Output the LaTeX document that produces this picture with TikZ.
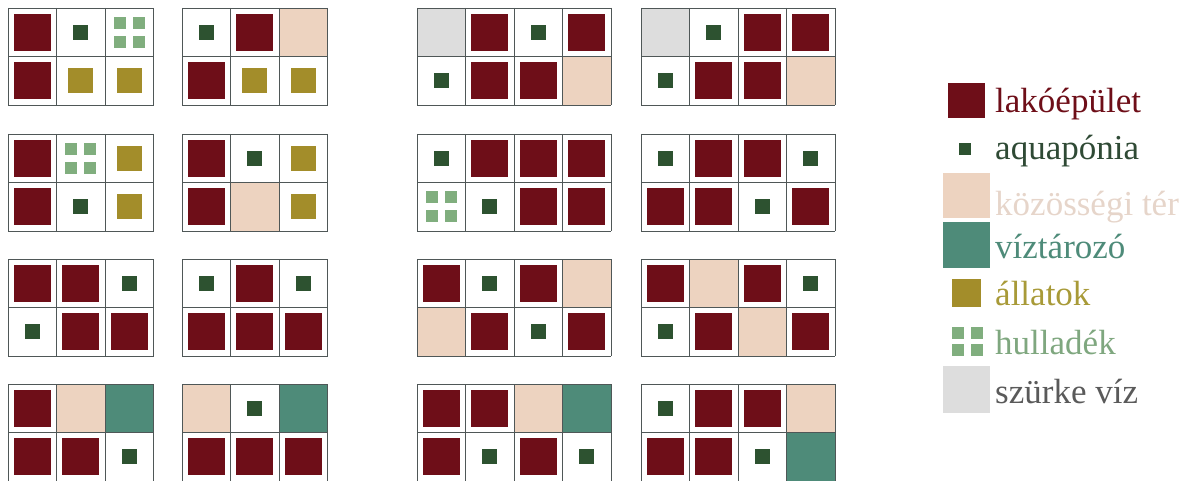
\documentclass[tikz,border=0pt]{standalone}
\usepackage{fontspec}
\setmainfont{Liberation Serif}
\usepackage{tikz}

\definecolor{lako}{HTML}{6E0E18}
\definecolor{aqua}{HTML}{2D5230}
\definecolor{kozos}{HTML}{EDD3C0}
\definecolor{viz}{HTML}{4E8B79}
\definecolor{allat}{HTML}{A38D2A}
\definecolor{hull}{HTML}{80AE7E}
\definecolor{szurke}{HTML}{DDDDDD}
\definecolor{gridgray}{HTML}{4F5757}
\definecolor{kozostext}{HTML}{E6D5CA}
\definecolor{allattext}{HTML}{A89A38}
\definecolor{hulltext}{HTML}{7FA77F}
\definecolor{szurketext}{HTML}{5A5A5A}
\definecolor{aquatext}{HTML}{2F4A35}

\tikzset{
  gridline/.style={draw=gridgray, line width=0.9pt},
  legtext/.style={anchor=base west, inner sep=0pt, font=\fontsize{35}{40}\selectfont},
}

% one tile per land use, placed by its centre (pixel units)
\newcommand{\tileR}[2]{\fill[lako] ({#1-18.5},{#2-18.5}) rectangle ++(37,37);}
\newcommand{\tileA}[2]{\fill[aqua] ({#1-7.5},{#2-7.5}) rectangle ++(15,15);}
\newcommand{\tileL}[2]{\fill[allat] ({#1-12.5},{#2-12.5}) rectangle ++(25,25);}
\newcommand{\tileH}[2]{\foreach \dx/\dy in {-15.5/-15.5, 3.5/-15.5, -15.5/3.5, 3.5/3.5}
    \fill[hull] ({#1+\dx},{#2+\dy}) rectangle ++(12,12);}
\newcommand{\tileC}[2]{\fill[kozos] ({#1-24.25},{#2-24.25}) rectangle ++(48.5,48.5);}
\newcommand{\tileW}[2]{\fill[viz] ({#1-24.25},{#2-24.25}) rectangle ++(48.5,48.5);}
\newcommand{\tileG}[2]{\fill[szurke] ({#1-24.25},{#2-24.25}) rectangle ++(48.5,48.5);}
\newcommand{\tileE}[2]{}
\newcommand{\tile}[3]{\csname tile#1\endcsname{#2}{#3}}

% x0, y0, columns, upper row, lower row
\newcommand{\layout}[5]{%
  \foreach \t [count=\i from 0] in {#4}{\tile{\t}{#1+\i*48.5+24.25}{#2+24.25}}
  \foreach \t [count=\i from 0] in {#5}{\tile{\t}{#1+\i*48.5+24.25}{#2+72.75}}
  \foreach \i in {0,...,#3}{\draw[gridline] ({#1+\i*48.5},#2) -- ++(0,97);}
  \foreach \j in {0,1,2}{\draw[gridline] (#1,{#2+\j*48.5}) -- ++({#3*48.5},0);}
}

\begin{document}
\begin{tikzpicture}[x=1pt, y=-1pt]
  \useasboundingbox (0,0) rectangle (1196,481);
  % first row of layouts
  \layout{8}{8}{3}{R,A,H}{R,L,L}
  \layout{182}{8}{3}{A,R,C}{R,L,L}
  \layout{417}{8}{4}{G,R,A,R}{A,R,R,C}
  \layout{641}{8}{4}{G,A,R,R}{A,R,R,C}
  % second row
  \layout{8}{134}{3}{R,H,L}{R,A,L}
  \layout{182}{134}{3}{R,A,L}{R,C,L}
  \layout{417}{134}{4}{A,R,R,R}{H,A,R,R}
  \layout{641}{134}{4}{A,R,R,A}{R,R,A,R}
  % third row
  \layout{8}{259}{3}{R,R,A}{A,R,R}
  \layout{182}{259}{3}{A,R,A}{R,R,R}
  \layout{417}{259}{4}{R,A,R,C}{C,R,A,R}
  \layout{641}{259}{4}{R,C,R,A}{A,R,C,R}
  % fourth row
  \layout{8}{384}{3}{R,C,W}{R,R,A}
  \layout{182}{384}{3}{C,A,W}{R,R,R}
  \layout{417}{384}{4}{R,R,C,W}{R,A,R,A}
  \layout{641}{384}{4}{A,R,R,C}{R,R,A,W}

  % legend
  \fill[lako] (948,83) rectangle (985,118);
  \node[legtext, text=lako] (lakotext) at (995,113) {lakóépület};
  \fill[aqua] (959,143) rectangle (971,155);
  \node[legtext, text=aquatext] (aquatext) at (995,160) {aquapónia};
  \fill[kozos] (943,173) rectangle (990,218);
  \node[legtext, text=kozostext] (kozostext) at (995,215) {közösségi tér};
  \fill[viz] (943,222) rectangle (990,268);
  \node[legtext, text=viz] (viztext) at (995,258) {víztározó};
  \fill[allat] (952,279) rectangle (981,307);
  \node[legtext, text=allattext] (allattext) at (995,305) {állatok};
  \foreach \dx/\dy in {0/0, 19/0, 0/17, 19/17}
    \fill[hull] (952+\dx,327+\dy) rectangle ++(12,12);
  \node[legtext, text=hulltext] (hulltext) at (995,354) {hulladék};
  \fill[szurke] (943,366) rectangle (990,413);
  \node[legtext, text=szurketext] (szurketext) at (995,403) {szürke víz};
\end{tikzpicture}
\end{document}
